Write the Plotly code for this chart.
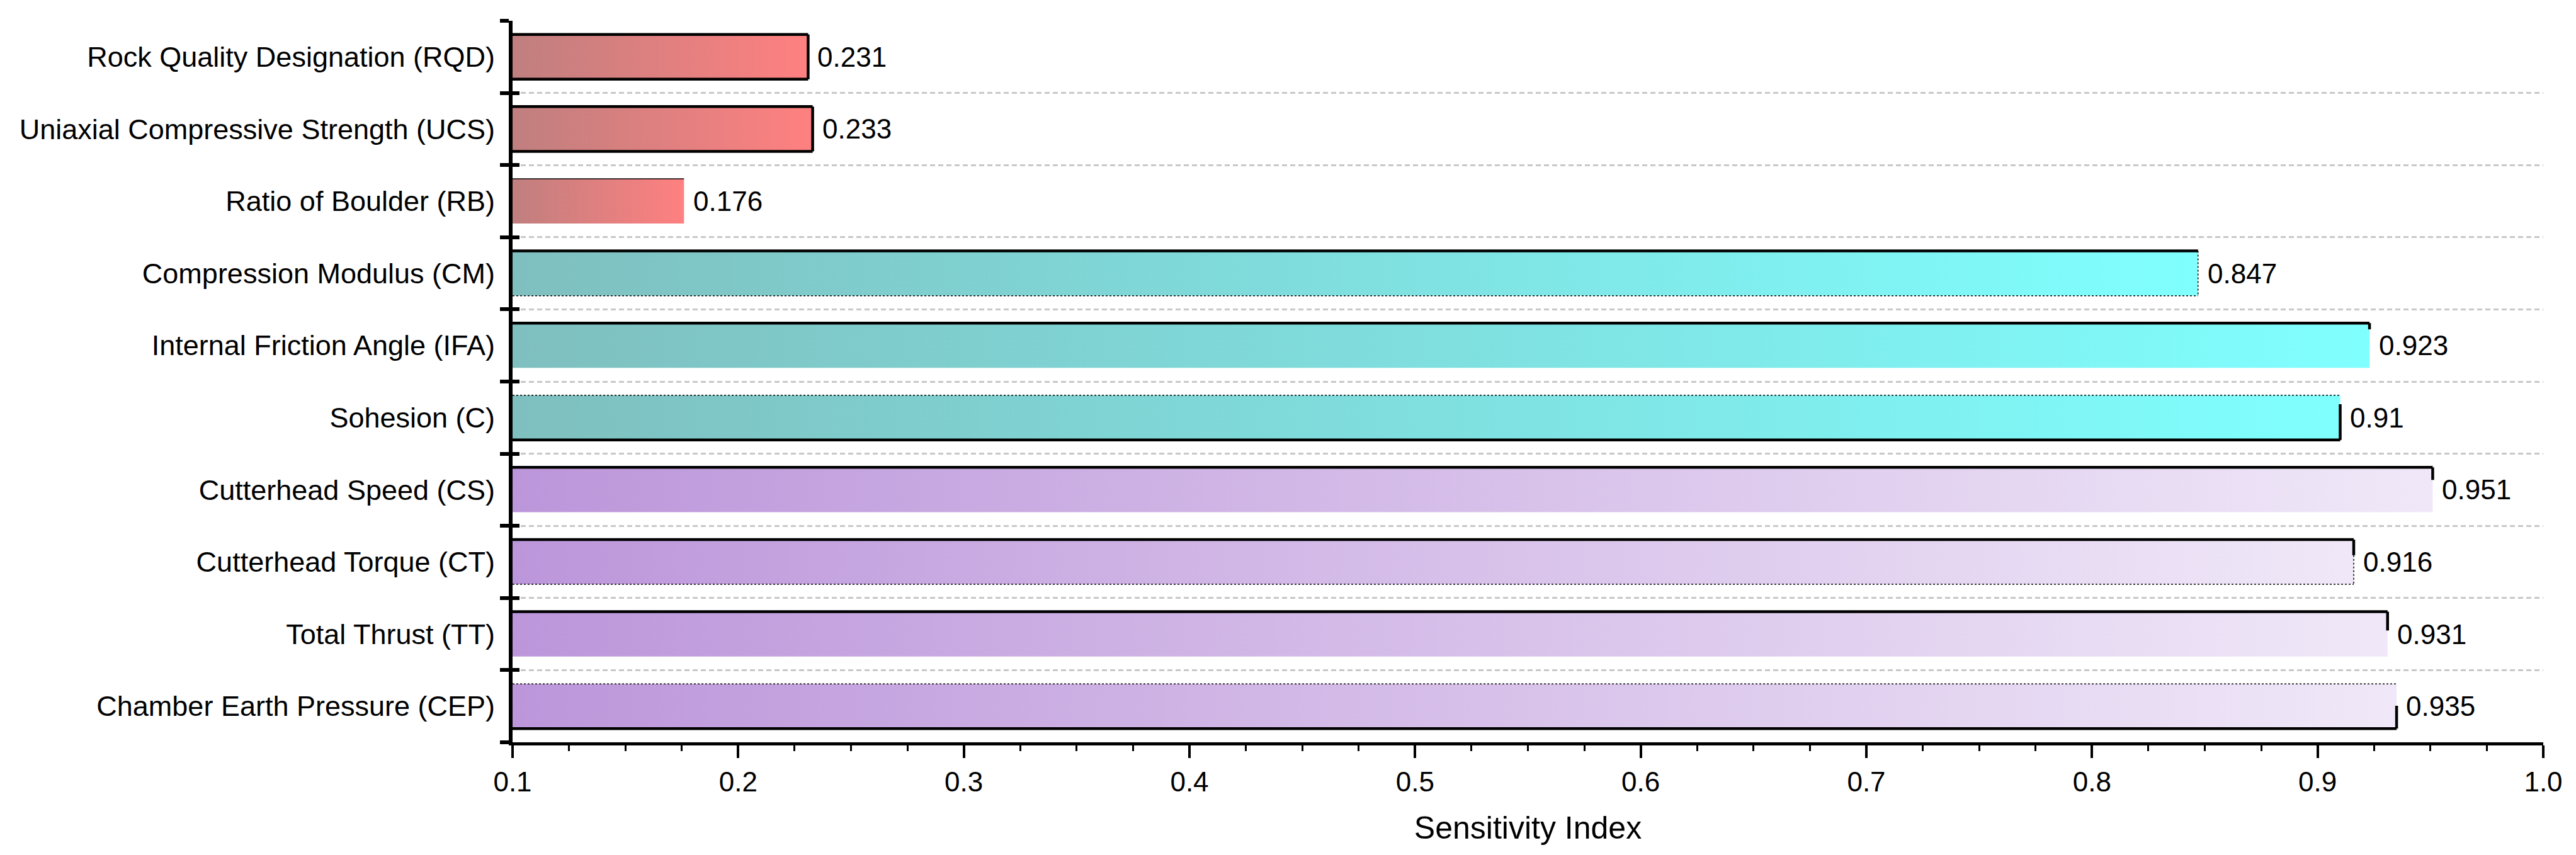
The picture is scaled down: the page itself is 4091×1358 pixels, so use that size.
import plotly.graph_objects as go

# ---------------- data ----------------
categories = [
    "Rock Quality Designation (RQD)",
    "Uniaxial Compressive Strength (UCS)",
    "Ratio of Boulder (RB)",
    "Compression Modulus (CM)",
    "Internal Friction Angle (IFA)",
    "Sohesion (C)",
    "Cutterhead Speed (CS)",
    "Cutterhead Torque (CT)",
    "Total Thrust (TT)",
    "Chamber Earth Pressure (CEP)",
]
values = [0.231, 0.233, 0.176, 0.847, 0.923, 0.91, 0.951, 0.916, 0.931, 0.935]
groups = ["geo", "geo", "geo", "soil", "soil", "soil", "tbm", "tbm", "tbm", "tbm"]
x_ticks = [0.1, 0.2, 0.3, 0.4, 0.5, 0.6, 0.7, 0.8, 0.9, 1.0]
x_tick_labels = ["0.1", "0.2", "0.3", "0.4", "0.5", "0.6", "0.7", "0.8", "0.9", "1.0"]
x_title = "Sensitivity Index"

# ---------------- style ----------------
group_colors = {
    "geo": ("#C07F7F", "#FF8080"),
    "soil": ("#7FBFBF", "#80FFFF"),
    "tbm": ("#BC96DA", "#F0E8F8"),
}
x_base = 0.1
bar_half = 0.31
FONT = "Liberation Sans, Arial, sans-serif"

# outline artefacts of the original drawing (which edges are stroked)
# right: list of (from_frac, to_frac, kind) measured from the top of the bar
edge_style = [
    dict(top="thick", bottom="thick", right=[(0, 1, "thick")]),
    dict(top="thick", bottom="thick", right=[(0, 1, "thick")]),
    dict(top="thin", bottom=None, right=[]),
    dict(top="thick", bottom="dot", right=[(0, 1, "dot")]),
    dict(top="thick", bottom=None, right=[(0, 0.14, "thick")]),
    dict(top="dot", bottom="thick", right=[(0.2, 1, "thick")]),
    dict(top="thick", bottom=None, right=[(0, 0.28, "thick")]),
    dict(top="thick", bottom="dot", right=[(0, 0.35, "thick"), (0.35, 1, "dot")]),
    dict(top="thick", bottom=None, right=[(0, 0.42, "thick")]),
    dict(top="dot", bottom="thick", right=[(0.49, 1, "thick")]),
]
line_kinds = {
    "thick": dict(color="black", width=4.5),
    "thin": dict(color="black", width=1.5),
    "dot": dict(color="black", width=1.5, dash="dot"),
}

fig = go.Figure()

ypos = list(range(len(categories)))

# gradient-filled bars
for i, (v, g) in enumerate(zip(values, groups)):
    c0, c1 = group_colors[g]
    yt, yb = i - bar_half, i + bar_half
    fig.add_trace(go.Scatter(
        x=[x_base, v, v, x_base, x_base],
        y=[yt, yt, yb, yb, yt],
        mode="lines", fill="toself",
        line=dict(width=0, color="rgba(0,0,0,0)"),
        fillgradient=dict(type="horizontal", colorscale=[[0, c0], [1, c1]]),
        hoverinfo="skip", showlegend=False,
    ))

# bar outlines
for i, (v, st) in enumerate(zip(values, edge_style)):
    yt, yb = i - bar_half, i + bar_half
    if st["top"]:
        fig.add_trace(go.Scatter(x=[x_base, v], y=[yt, yt], mode="lines",
                                 line=line_kinds[st["top"]], hoverinfo="skip", showlegend=False))
    if st["bottom"]:
        fig.add_trace(go.Scatter(x=[x_base, v], y=[yb, yb], mode="lines",
                                 line=line_kinds[st["bottom"]], hoverinfo="skip", showlegend=False))
    for f0, f1, kind in st["right"]:
        fig.add_trace(go.Scatter(x=[v, v], y=[yt + f0 * 2 * bar_half, yt + f1 * 2 * bar_half],
                                 mode="lines", line=line_kinds[kind],
                                 hoverinfo="skip", showlegend=False))

# value labels
for i, v in enumerate(values):
    fig.add_annotation(x=v, y=i, text=f"{v:g}", showarrow=False, xanchor="left",
                       yanchor="middle", xshift=13, font=dict(size=44, color="black", family=FONT))

boundaries = [i - 0.5 for i in range(len(categories) + 1)]
inner_bounds = boundaries[1:-1]

fig.update_layout(
    width=4091, height=1358,
    margin=dict(l=806, r=60, t=25, b=187, autoexpand=False),
    paper_bgcolor="white", plot_bgcolor="white",
    font=dict(family=FONT, size=44, color="black"),
    showlegend=False,
    xaxis=dict(
        range=[x_ticks[0], x_ticks[-1]],
        tickmode="array", tickvals=x_ticks, ticktext=x_tick_labels,
        ticks="outside", ticklen=20, tickwidth=4, tickcolor="black",
        minor=dict(tick0=0.1, dtick=0.025, ticks="outside", ticklen=9, tickwidth=3,
                   tickcolor="black", showgrid=False),
        showline=True, linewidth=5, linecolor="black",
        showgrid=False, zeroline=False,
        tickfont=dict(size=44),
        title=dict(text=x_title, font=dict(size=50), standoff=34),
        automargin=False,
    ),
    yaxis=dict(
        range=[len(categories) - 0.5, -0.5],
        tickmode="array", tickvals=ypos, ticktext=categories,
        ticks="", showgrid=False, zeroline=False,
        showline=True, linewidth=6, linecolor="black",
        tickfont=dict(size=45), ticklabelstandoff=13,
        minor=dict(tickmode="array", tickvals=boundaries, ticks="outside", ticklen=14,
                   tickwidth=6, tickcolor="black", showgrid=False),
        automargin=False,
    ),
    yaxis2=dict(
        overlaying="y", matches="y", side="left", anchor="x",
        range=[len(categories) - 0.5, -0.5],
        tickmode="array", tickvals=boundaries, ticks="inside", ticklen=11,
        tickwidth=6, tickcolor="black", showticklabels=False,
        showgrid=False, zeroline=False, showline=False,
        minor=dict(tickmode="array", tickvals=inner_bounds, ticks="", showgrid=True,
                   gridcolor="#C8C8C8", gridwidth=3, griddash="8px,5px"),
        automargin=False,
    ),
)

# dummy trace so yaxis2 is active
fig.add_trace(go.Scatter(x=[None], y=[None], yaxis="y2", showlegend=False, hoverinfo="skip"))

fig.write_html("out.html")
